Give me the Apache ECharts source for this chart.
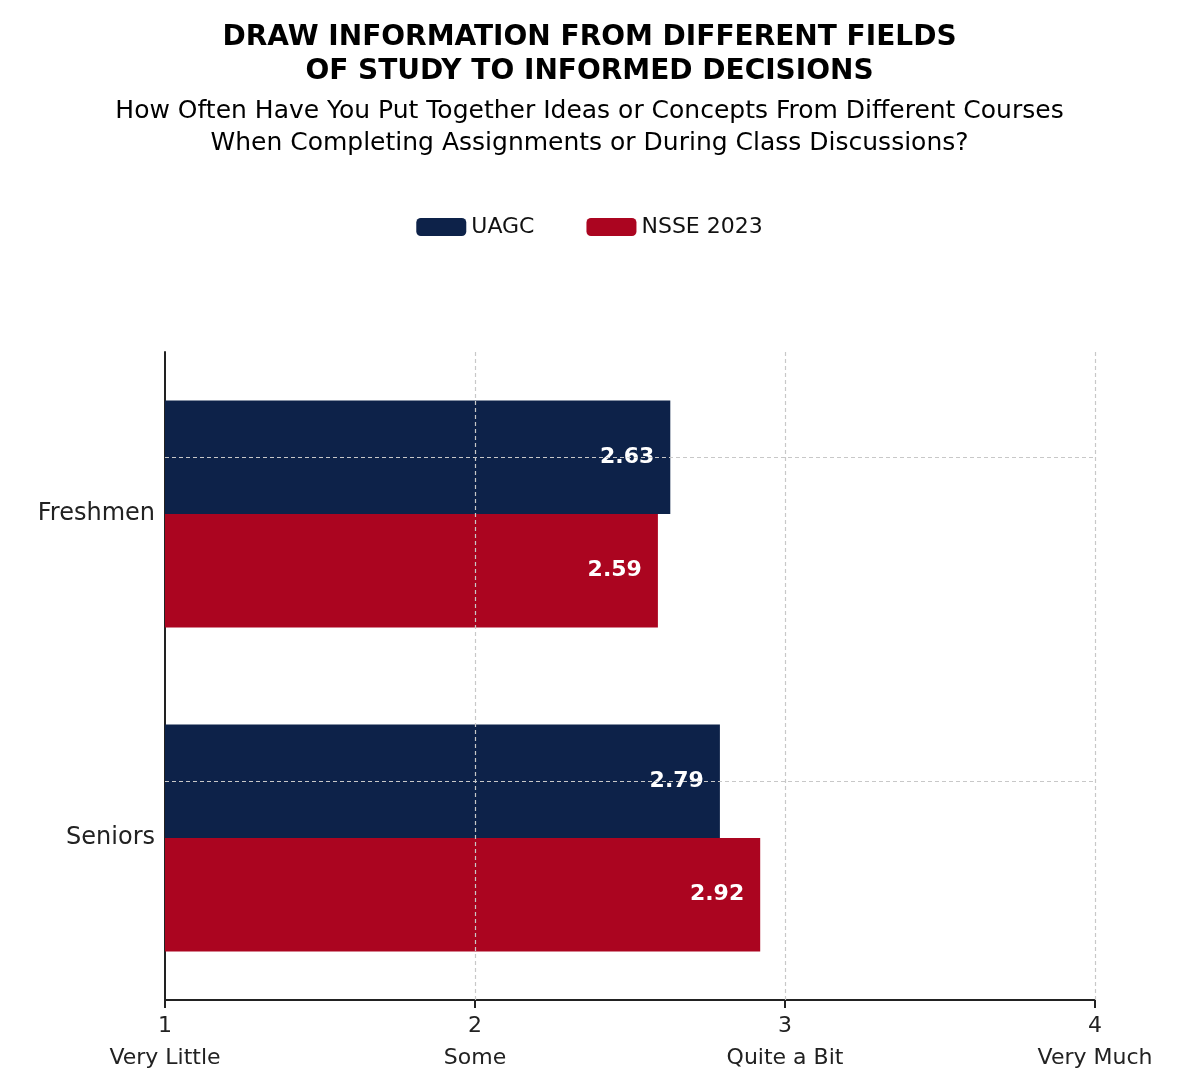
<!DOCTYPE html><html><head><meta charset="utf-8"><script src="https://cdn.jsdelivr.net/npm/echarts@6/dist/echarts.min.js"></script></head><body style="margin:0"><div id="c" style="width:1179px;height:1085px"></div><script>
const categories=['Freshmen','Seniors'];
const uagc=[2.63,2.79];
const nsse=[2.59,2.92];
const tickNames={1:'Very Little',2:'Some',3:'Quite a Bit',4:'Very Much'};
const F='DejaVu Sans';
const c=echarts.init(document.getElementById('c'));
const lbl={show:true,position:'insideRight',color:'#fff',fontWeight:'bold',fontSize:22,fontFamily:F,distance:16,formatter:p=>p.value.toFixed(2)};
const dash={color:'#c8c8c8',type:[4,3],width:1.2};
c.setOption({
 title:[{text:'DRAW INFORMATION FROM DIFFERENT FIELDS\nOF STUDY TO INFORMED DECISIONS',left:'center',top:16,textStyle:{fontFamily:F,fontSize:28,fontWeight:'bold',color:'#000',lineHeight:34}},
  {text:'How Often Have You Put Together Ideas or Concepts From Different Courses\nWhen Completing Assignments or During Class Discussions?',left:'center',top:90,textStyle:{fontFamily:F,fontSize:25,fontWeight:'normal',color:'#000',lineHeight:32}}],
 legend:{top:211,left:'center',itemWidth:50,itemHeight:18,itemGap:52,textStyle:{fontFamily:F,fontSize:22,color:'#111'},data:['UAGC','NSSE 2023']},
 grid:{left:165,right:84,top:352,bottom:85},
 xAxis:{type:'value',min:1,max:4,interval:1,axisLine:{show:true,lineStyle:{color:'#222',width:2}},axisTick:{show:true,length:8,lineStyle:{color:'#222',width:2}},splitLine:{show:false},
  axisLabel:{fontFamily:F,fontSize:22,color:'#222',lineHeight:32,margin:10,formatter:v=>v+'\n'+tickNames[v]}},
 yAxis:{type:'category',data:categories,inverse:true,axisLine:{lineStyle:{color:'#222',width:2}},axisTick:{show:false},axisLabel:{fontFamily:F,fontSize:24,color:'#222',margin:10}},
 series:[
  {name:'UAGC',type:'bar',data:uagc,itemStyle:{color:'#0d2249'},barGap:'0%',barCategoryGap:'30%',label:lbl,
   markLine:{silent:true,symbol:'none',label:{show:false},lineStyle:dash,z:10,data:[{xAxis:2},{xAxis:3},{xAxis:4},{yAxis:'Freshmen'},{yAxis:'Seniors'}]}},
  {name:'NSSE 2023',type:'bar',data:nsse,itemStyle:{color:'#ab0520'},label:lbl}
 ]});
</script></body></html>
